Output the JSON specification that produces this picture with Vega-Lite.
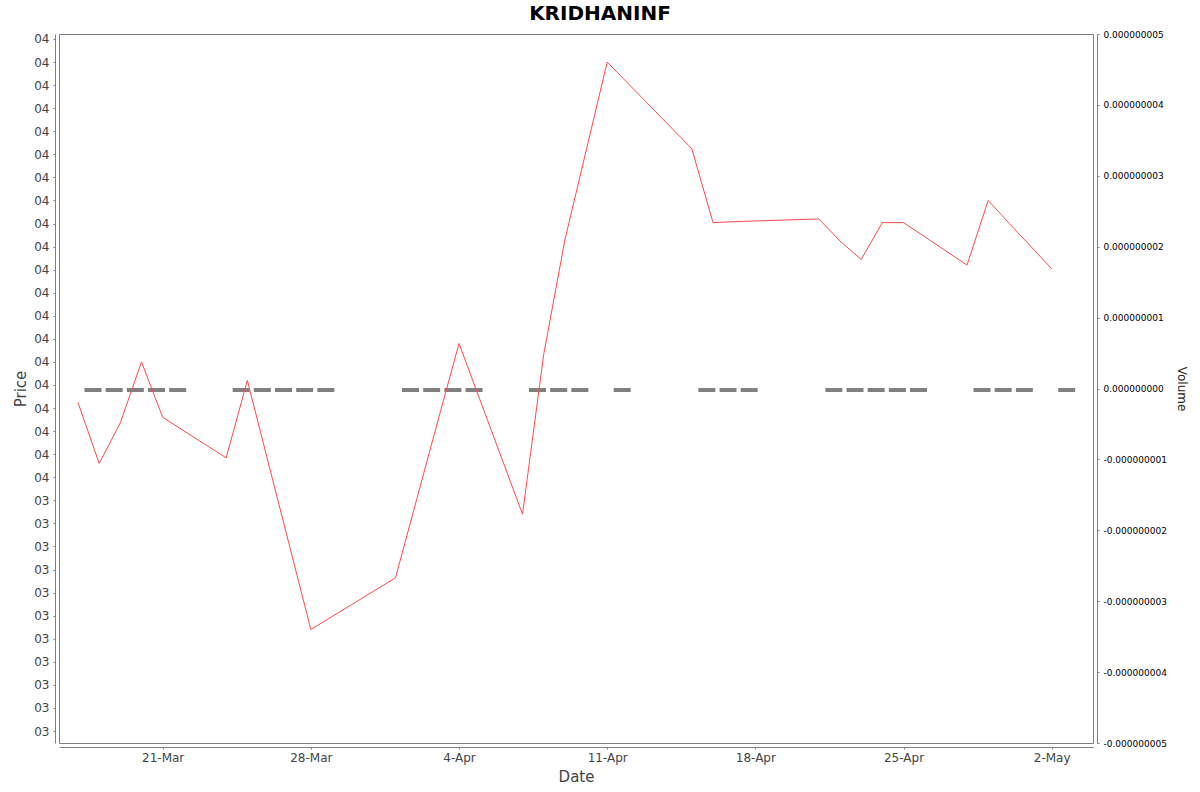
{
  "$schema": "https://vega.github.io/schema/vega-lite/v6.json",
  "width": 1034,
  "height": 709,
  "autosize": {"type": "none"},
  "padding": {"left": 59, "top": 34, "right": 107, "bottom": 49},
  "background": "white",
  "title": {"text": "KRIDHANINF", "fontSize": 20, "font": "DejaVu Sans", "fontWeight": "bold", "color": "#000000", "anchor": "middle", "frame": "group", "baseline": "alphabetic", "offset": -10, "dx": 24},
  "config": {
    "font": "DejaVu Sans",
    "view": {"stroke": "#808080", "strokeWidth": 1},
    "axis": {"grid": false, "domainColor": "#808080", "tickColor": "#808080", "labelColor": "#444444", "titleColor": "#444444", "labelFont": "DejaVu Sans", "titleFont": "DejaVu Sans", "titleFontWeight": "normal"}
  },
  "data": {"values": [
    {"date": "2025-03-17", "price": 3.581, "volume": 0},
    {"date": "2025-03-18", "price": 3.515, "volume": 0},
    {"date": "2025-03-19", "price": 3.559, "volume": 0},
    {"date": "2025-03-20", "price": 3.625, "volume": 0},
    {"date": "2025-03-21", "price": 3.565, "volume": 0},
    {"date": "2025-03-24", "price": 3.521, "volume": 0},
    {"date": "2025-03-25", "price": 3.605, "volume": 0},
    {"date": "2025-03-26", "price": 3.515, "volume": 0},
    {"date": "2025-03-27", "price": 3.425, "volume": 0},
    {"date": "2025-03-28", "price": 3.335, "volume": 0},
    {"date": "2025-04-01", "price": 3.391, "volume": 0},
    {"date": "2025-04-02", "price": 3.476, "volume": 0},
    {"date": "2025-04-03", "price": 3.561, "volume": 0},
    {"date": "2025-04-04", "price": 3.645, "volume": 0},
    {"date": "2025-04-07", "price": 3.460, "volume": 0},
    {"date": "2025-04-08", "price": 3.633, "volume": 0},
    {"date": "2025-04-09", "price": 3.757, "volume": 0},
    {"date": "2025-04-11", "price": 3.950, "volume": 0},
    {"date": "2025-04-15", "price": 3.856, "volume": 0},
    {"date": "2025-04-16", "price": 3.776, "volume": 0},
    {"date": "2025-04-17", "price": 3.777, "volume": 0},
    {"date": "2025-04-21", "price": 3.780, "volume": 0},
    {"date": "2025-04-22", "price": 3.756, "volume": 0},
    {"date": "2025-04-23", "price": 3.736, "volume": 0},
    {"date": "2025-04-24", "price": 3.776, "volume": 0},
    {"date": "2025-04-25", "price": 3.776, "volume": 0},
    {"date": "2025-04-28", "price": 3.730, "volume": 0},
    {"date": "2025-04-29", "price": 3.800, "volume": 0},
    {"date": "2025-04-30", "price": 3.775, "volume": 0},
    {"date": "2025-05-02", "price": 3.726, "volume": 0}
  ]},
  "encoding": {
    "x": {
      "field": "date", "type": "temporal",
      "scale": {"type": "utc", "domain": [
        {"year": 2025, "month": 3, "date": 16, "hours": 2, "minutes": 27, "utc": true},
        {"year": 2025, "month": 5, "date": 3, "hours": 22, "minutes": 50, "utc": true}
      ]},
      "axis": {
        "title": "Date", "titleFontSize": 15, "titlePadding": 6,
        "labelFontSize": 12, "format": "%-d-%b", "offset": 4, "tickSize": 2, "labelPadding": 3,
        "values": [
          {"year": 2025, "month": 3, "date": 21, "utc": true},
          {"year": 2025, "month": 3, "date": 28, "utc": true},
          {"year": 2025, "month": 4, "date": 4, "utc": true},
          {"year": 2025, "month": 4, "date": 11, "utc": true},
          {"year": 2025, "month": 4, "date": 18, "utc": true},
          {"year": 2025, "month": 4, "date": 25, "utc": true},
          {"year": 2025, "month": 5, "date": 2, "utc": true}
        ]
      }
    }
  },
  "layer": [
    {
      "mark": {"type": "tick", "orient": "horizontal", "size": 17, "thickness": 4, "color": "#808080", "opacity": 1, "xOffset": 15, "yOffset": 1.5},
      "encoding": {
        "y": {
          "field": "volume", "type": "quantitative",
          "scale": {"domain": [-0.000000005, 0.000000005], "nice": false, "zero": false},
          "axis": {
            "orient": "right", "title": "Volume", "titleFontSize": 12, "titleColor": "#222222", "titlePadding": 8,
            "labelFontSize": 9, "labelColor": "#000000", "offset": 4, "tickSize": 2, "labelPadding": 4,
            "values": [-0.000000005, -0.000000004, -0.000000003, -0.000000002, -0.000000001, 0, 0.000000001, 0.000000002, 0.000000003, 0.000000004, 0.000000005],
            "labelExpr": "replace(format(datum.value, '.9f'), '\u2212', '-')"
          }
        }
      }
    },
    {
      "mark": {"type": "line", "color": "#ff4a4a", "strokeWidth": 1},
      "encoding": {
        "y": {
          "field": "price", "type": "quantitative",
          "scale": {"domain": [3.2120, 3.9804], "nice": false, "zero": false},
          "axis": {
            "orient": "left", "title": "Price", "titleFontSize": 15, "titlePadding": 5,
            "labelFontSize": 12, "offset": 4, "tickSize": 2, "labelPadding": 4, "format": "02.0f",
            "values": [3.225, 3.25, 3.275, 3.3, 3.325, 3.35, 3.375, 3.4, 3.425, 3.45, 3.475, 3.5, 3.525, 3.55, 3.575, 3.6, 3.625, 3.65, 3.675, 3.7, 3.725, 3.75, 3.775, 3.8, 3.825, 3.85, 3.875, 3.9, 3.925, 3.95, 3.975]
          }
        }
      }
    }
  ],
  "resolve": {"scale": {"y": "independent"}}
}
